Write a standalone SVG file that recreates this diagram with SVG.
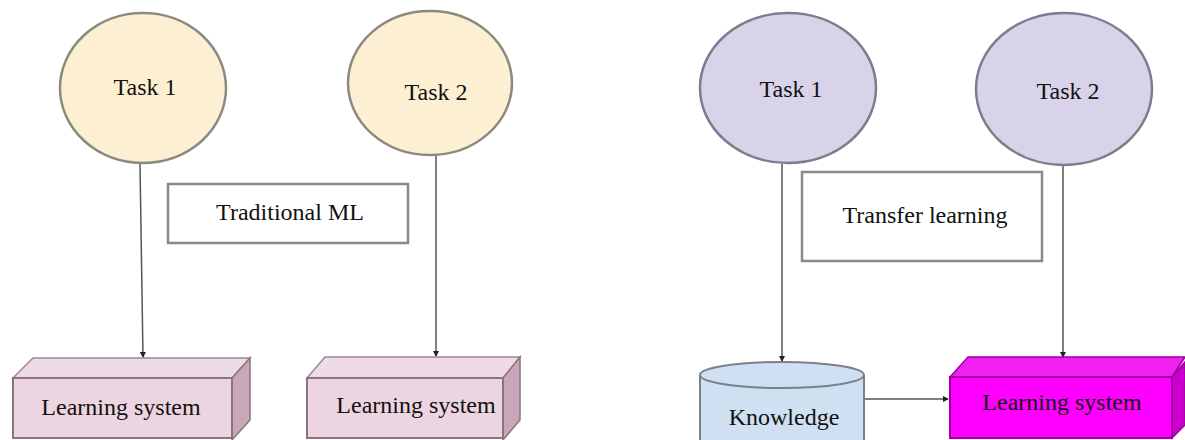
<svg xmlns="http://www.w3.org/2000/svg" width="1185" height="440" viewBox="0 0 1185 440">
<style>
text{font-family:'Liberation Serif','DejaVu Serif',serif;font-size:24px;fill:#111;text-anchor:middle}
.cy{fill:#fdf0d2;stroke:#8c8a80;stroke-width:2.5}
.cp{fill:#d9d3ea;stroke:#807c90;stroke-width:2.5}
.lbl{fill:#fff;stroke:#8a8a8a;stroke-width:2.5}
.pf{fill:#ecd4e0;stroke:#8a7480;stroke-width:2}
.pt{fill:#efdbe5;stroke:#9a8a92;stroke-width:1.5}
.ps{fill:#c8a8b8;stroke:#8a7480;stroke-width:1.5}
.mf{fill:#ff00ff;stroke:#a000a0;stroke-width:2}
.mt{fill:#f020f0;stroke:#a000a0;stroke-width:1.5}
.ms{fill:#cc00cc;stroke:#a000a0;stroke-width:1.5}
.kn{fill:#cfe0f2;stroke:#7d8088;stroke-width:2}
.ln{stroke:#555;stroke-width:1.5;fill:none;marker-end:url(#ah)}
</style>
<defs>
<marker id="ah" markerWidth="6" markerHeight="6" refX="5" refY="3" orient="auto" markerUnits="userSpaceOnUse">
<path d="M0,0 L6,3 L0,6 Z" fill="#222"/>
</marker>
</defs>
<rect width="1185" height="440" fill="#fff"/>
<g id="connectors">
<line class="ln" x1="140" y1="164" x2="143" y2="357"/>
<line class="ln" x1="436" y1="155" x2="436" y2="356"/>
<line class="ln" x1="782" y1="164" x2="782" y2="361"/>
<line class="ln" x1="1063" y1="165" x2="1063" y2="357"/>
<line class="ln" x1="864" y1="399" x2="948" y2="399"/>
</g>
<g id="task1-left"><ellipse class="cy" cx="143" cy="88" rx="83" ry="75"/><text x="145" y="95">Task 1</text></g>
<g id="task2-left"><ellipse class="cy" cx="430" cy="83" rx="82" ry="72"/><text x="436" y="100">Task 2</text></g>
<g id="traditional-ml"><rect class="lbl" x="168" y="184" width="240" height="59"/><text x="290" y="220">Traditional ML</text></g>
<g id="ls1">
<polygon class="pt" points="13,378 33,358 250,358 232,378"/>
<polygon class="ps" points="232,378 250,358 250,420 232,440"/>
<rect class="pf" x="13" y="378" width="219" height="60"/>
<text x="121" y="415">Learning system</text>
</g>
<g id="ls2">
<polygon class="pt" points="307,378 325,357 520,357 503,378"/>
<polygon class="ps" points="503,378 520,357 520,420 503,440"/>
<rect class="pf" x="307" y="378" width="196" height="60"/>
<text x="416" y="413">Learning system</text>
</g>
<g id="task1-right"><ellipse class="cp" cx="788" cy="88" rx="88" ry="75"/><text x="791" y="97">Task 1</text></g>
<g id="task2-right"><ellipse class="cp" cx="1064" cy="89" rx="88" ry="76"/><text x="1068" y="99">Task 2</text></g>
<g id="transfer-learning"><rect class="lbl" x="802" y="172" width="240" height="89"/><text x="925" y="223">Transfer learning</text></g>
<g id="knowledge">
<path class="kn" d="M700,375 L700,442 L864,442 L864,375"/>
<ellipse class="kn" cx="782" cy="375" rx="82" ry="13"/>
<text x="784" y="425">Knowledge</text>
</g>
<g id="ls3">
<polygon class="mt" points="950,377 968,357 1185,357 1172,377"/>
<polygon class="ms" points="1172,377 1185,362 1185,425 1172,438"/>
<rect class="mf" x="950" y="377" width="222" height="61"/>
<text x="1062" y="410">Learning system</text>
</g>
</svg>
